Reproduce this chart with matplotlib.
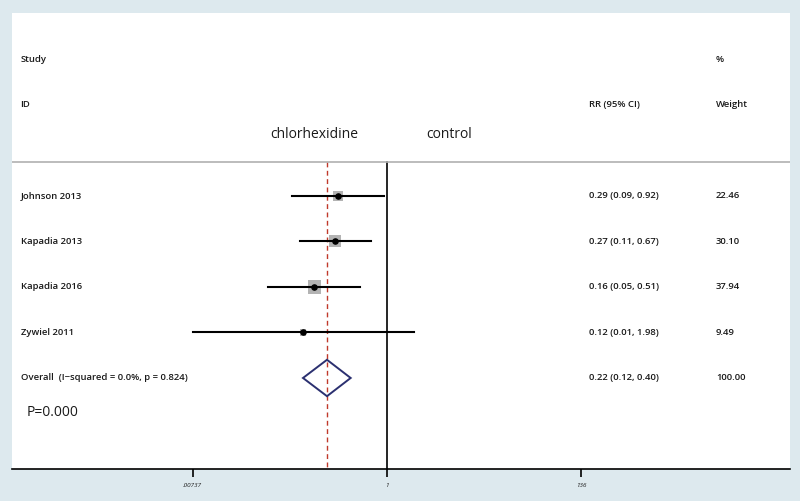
"""Forest plot: chlorhexidine vs control, RR with 95% CI."""

import matplotlib

matplotlib.use("Agg")

import matplotlib.pyplot as plt
import numpy as np

plt.rcParams["font.family"] = ["Open Sans", "DejaVu Sans"]

studies = ["Johnson 2013", "Kapadia 2013", "Kapadia 2016", "Zywiel 2011"]
rr = [0.29, 0.27, 0.16, 0.12]
ci_low = [0.09, 0.11, 0.05, 0.00737]
ci_high = [0.92, 0.67, 0.51, 1.98]
ci_text = ["0.29 (0.09, 0.92)", "0.27 (0.11, 0.67)", "0.16 (0.05, 0.51)", "0.12 (0.01, 1.98)"]
weights = [22.46, 30.10, 37.94, 9.49]

overall_rr = 0.22
overall_low = 0.12
overall_high = 0.40
overall_label = "Overall  (I\u2212squared = 0.0%, p = 0.824)"
overall_ci_text = "0.22 (0.12, 0.40)"
overall_weight = "100.00"

xticks = [0.00737, 1, 136]
xtick_labels = [".00737", "1", "136"]

BG = "#dde9ee"
NAVY = "#2b3070"
RED = "#c0392b"
TXT = "#1a1a1a"

fig = plt.figure(figsize=(8, 5.01), dpi=100, facecolor=BG)
ax = fig.add_axes([12 / 800, 32 / 501, 778 / 800, 456 / 501], facecolor="white")

ax.set_xscale("log")
ax.set_xlim(np.exp(-9.47), np.exp(10.18))
ax.set_ylim(6.0, -4.02)

rows = np.arange(len(studies))
overall_row = len(studies)

# CI lines, weight boxes and point estimates
for i in rows:
    ax.plot([ci_low[i], ci_high[i]], [i, i], color="black", lw=1.5, zorder=3)
ax.scatter(rr, rows, s=[2.5 * w for w in weights], marker="s", color="#b3b3b3",
           edgecolors="none", zorder=2)
ax.scatter(rr, rows, s=14, marker="o", color="black", zorder=4)

# overall diamond
dh = 0.4
ax.fill([overall_low, overall_rr, overall_high, overall_rr, overall_low],
        [overall_row, overall_row - dh, overall_row, overall_row + dh, overall_row],
        facecolor="none", edgecolor=NAVY, lw=1.4, zorder=3)

# reference lines
ax.plot([1, 1], [-0.75, 6.0], color="black", lw=1.2, zorder=1)
ax.plot([overall_rr, overall_rr], [-0.75, 6.0], color=RED, lw=1.0,
        ls=(0, (3.5, 2.5)), zorder=1)
ax.axhline(-0.75, color="#b0b0b0", lw=1.2)

# axes styling
for side in ["top", "right", "left"]:
    ax.spines[side].set_visible(False)
ax.spines["bottom"].set_linewidth(1.2)
ax.set_yticks([])
ax.set_xticks(xticks)
ax.set_xticklabels(xtick_labels, fontsize=4.5, style="italic", color=TXT)
ax.minorticks_off()
ax.tick_params(axis="x", direction="out", length=6, width=1.2, pad=4)

# text columns
x_lab = 0.011
x_ci = (589 - 12) / 778
x_wt = (716 - 12) / 778
tr = ax.get_yaxis_transform()
fs = 6.8
kw = dict(transform=tr, fontsize=fs, va="center", color=TXT, fontweight="semibold")

ax.text(x_lab, -3, "Study", **kw)
ax.text(x_lab, -2, "ID", **kw)
ax.text(x_wt, -3, "%", **kw)
ax.text(x_ci, -2, "RR (95% CI)", **kw)
ax.text(x_wt, -2, "Weight", **kw)
ax.text((270 - 12) / 778, -1.35, "chlorhexidine", transform=tr, fontsize=10,
        va="center", color=TXT)
ax.text((426 - 12) / 778, -1.35, "control", transform=tr, fontsize=10,
        va="center", color=TXT)

for i in rows:
    ax.text(x_lab, i, studies[i], **kw)
    ax.text(x_ci, i, ci_text[i], **kw)
    ax.text(x_wt, i, f"{weights[i]:.2f}", **kw)

ax.text(x_lab, overall_row, overall_label, **kw)
ax.text(x_ci, overall_row, overall_ci_text, **kw)
ax.text(x_wt, overall_row, overall_weight, **kw)
ax.text((27 - 12) / 778, 4.75, "P=0.000", transform=tr, fontsize=10,
        va="center", color=TXT)

fig.savefig("out.png", dpi=100, facecolor=BG)
